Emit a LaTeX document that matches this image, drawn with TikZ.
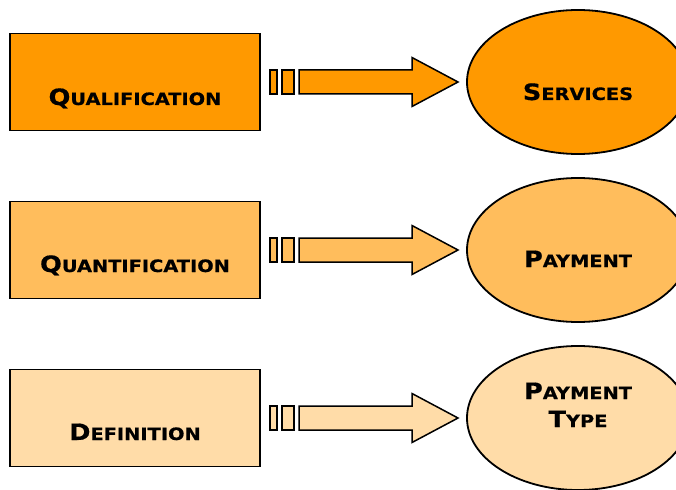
\documentclass[tikz,border=0pt]{standalone}
\usepackage{fontspec}
\setmainfont{DejaVu Sans}[FakeStretch=1.14, BoldFeatures={FakeBold=0.6}]
\usetikzlibrary{calc}
\definecolor{or1}{HTML}{FF9900}
\definecolor{or2}{HTML}{FFBD5C}
\definecolor{or3}{HTML}{FFDCA8}
\newcommand\fakesc[2]{{\fontsize{22.5}{24}\selectfont #1}{\fontsize{17}{24}\selectfont #2}}
\tikzset{
  box/.style={draw=black, line width=1.8pt, minimum width=250pt, minimum height=97pt, inner sep=0pt},
  oval/.style={draw=black, line width=1.8pt, ellipse, minimum width=222pt, minimum height=144pt, inner sep=0pt},
  lbl/.style={anchor=base, font=\bfseries, inner sep=0pt, align=center},
  arr/.style={draw=black, line width=1.5pt, line join=miter}
}
\usetikzlibrary{shapes.geometric}
\begin{document}
\begin{tikzpicture}[x=1pt, y=-1pt]
\useasboundingbox (0,0) rectangle (676,489);
\clip (0,0) rectangle (676,489);
\foreach \cy/\col/\n in {82/or1/a, 250/or2/b, 418/or3/c}{
  \node[box, fill=\col] (box\n) at (135,\cy) {};
  \node[oval, fill=\col] (ell\n) at (578,\cy) {};
  \begin{scope}[shift={(0,\cy)}]
    \filldraw[arr, fill=\col] (270,-12) rectangle (277,12);
    \filldraw[arr, fill=\col] (282,-12) rectangle (294,12);
    \filldraw[arr, fill=\col] (299,-12) -- (412,-12) -- (412,-24.5) -- (458,0) -- (412,24.5) -- (412,12) -- (299,12) -- cycle;
  \end{scope}
}
\node[lbl] (ta) at ($(boxa.center)+(0,23)$) {\fakesc{Q}{UALIFICATION}};
\node[lbl] (tb) at ($(boxb.center)+(0,22)$) {\fakesc{Q}{UANTIFICATION}};
\node[lbl] (tc) at ($(boxc.center)+(0,22)$) {\fakesc{D}{EFINITION}};
\node[lbl] (ea) at ($(ella.center)+(0,18)$) {\fakesc{S}{ERVICES}};
\node[lbl] (eb) at ($(ellb.center)+(0,17)$) {\fakesc{P}{AYMENT}};
\node[lbl] (ec1) at ($(ellc.center)+(0,-19)$) {\fakesc{P}{AYMENT}};
\node[lbl] (ec2) at ($(ellc.center)+(0,9)$) {\fakesc{T}{YPE}};
\end{tikzpicture}
\end{document}
